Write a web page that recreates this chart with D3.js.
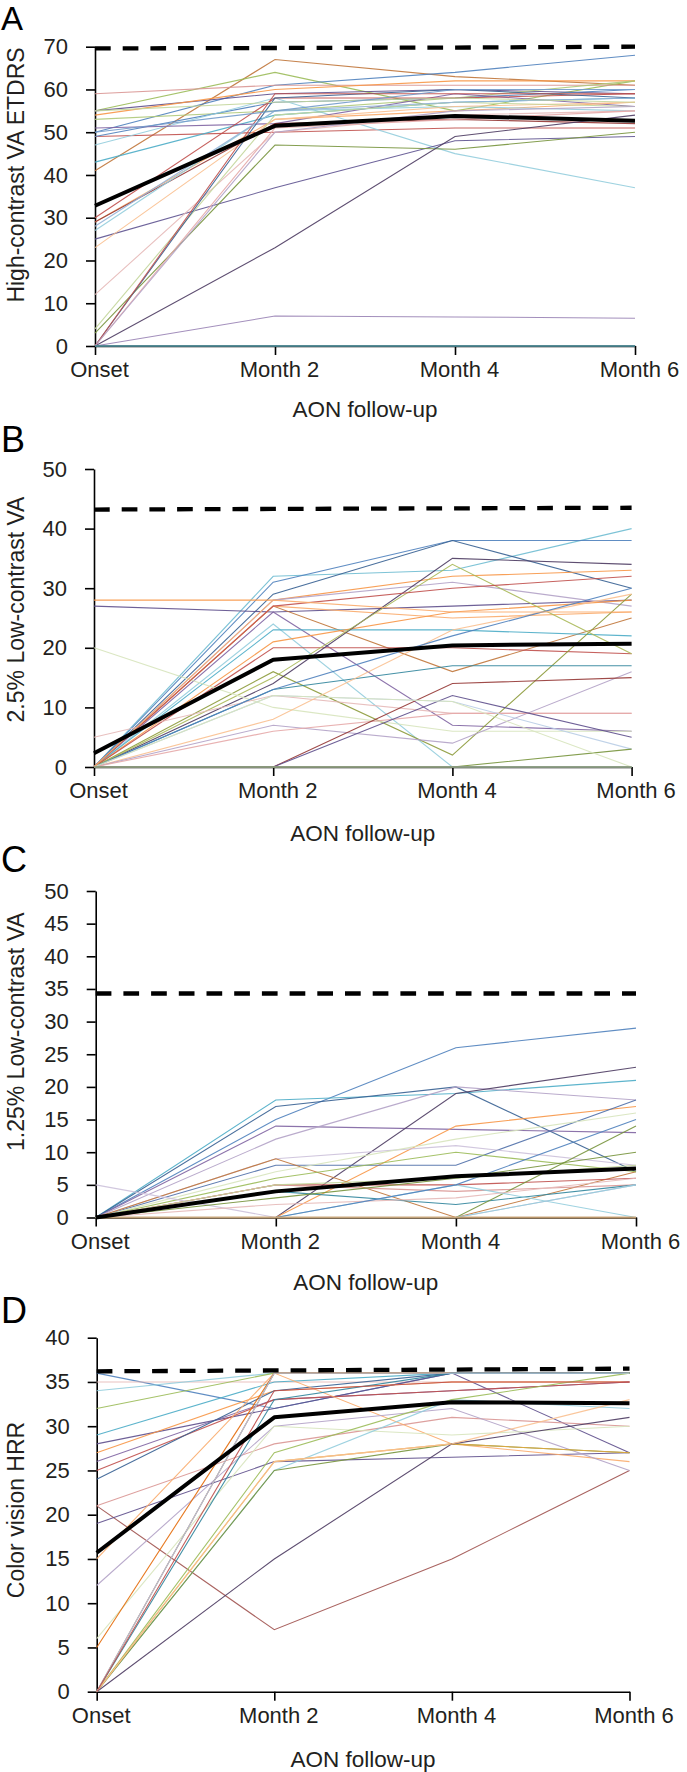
<!DOCTYPE html>
<html><head><meta charset="utf-8">
<script src="https://cdn.jsdelivr.net/npm/d3@7"></script>
<style>
body{margin:0;background:#fff;}
svg{display:block;font-family:"Liberation Sans",Arial,Helvetica,sans-serif;}
</style></head><body>
<svg id="chart" width="687" height="1772"></svg>
<script>
// ---------------- DATA ----------------
const timepoints = ["Onset", "Month 2", "Month 4", "Month 6"];
const panelLetters = ["A", "B", "C", "D"];
const yTitles = ["High-contrast VA ETDRS", "2.5% Low-contrast VA", "1.25% Low-contrast VA", "Color vision HRR"];
const xTitle = "AON follow-up";
const yMaxes = [70, 50, 50, 40];
const ySteps = [10, 10, 5, 5];

// Panel A: high-contrast VA (ETDRS letters), one row per eye
const hcvaPatients = [
  [41, 67, 63, 61], [55, 64, 55, 62], [50, 61, 64, 68], [59, 61, 61, 61],
  [55, 59, 60, 59], [54, 60, 62, 62], [53, 55, 58, 62], [49, 50, 51, 51],
  [49, 57, 58, 60], [47, 58, 45, 37], [43, 54, 57, 58], [51, 52, 59, 56],
  [30, 58, 58, 59], [29, 53, 55, 57], [29, 52, 53, 52], [27, 55, 56, 55],
  [25, 37, 48, 49], [23, 53, 56, 57], [12, 50, 54, 55], [4, 54, 57, 56],
  [3, 47, 46, 50], [0, 58, 60, 58], [0, 23, 49, 54], [0, 7, 6.8, 6.5],
  [0, 51, 53, 55], [0, 59, 59, 59], [0, 50, 55, 56], [28, 55, 57, 58],
  [55, 57, 58, 57], [50, 55, 60, 60], [0, 0, 0, 0]
];
const hcvaMean = [32.8, 51.5, 53.8, 52.7];
const hcvaNormal = [69.6, 69.7, 69.8, 70.0];

// Panel B: 2.5% low-contrast VA
const lc25Patients = [
  [0, 32, 33, 40], [0, 31, 38, 38], [0, 29, 38, 30], [28, 28, 32, 33],
  [27, 26, 27, 28], [0, 28, 31, 27], [0, 27, 16, 25], [0, 27, 25, 26],
  [0, 26, 7, 6], [0, 24, 0, 0], [0, 23, 23, 22], [0, 21, 26, 28],
  [0, 20, 20, 19], [0, 16, 2, 29], [0, 14, 35, 34], [0, 13, 17, 17],
  [0, 15, 34, 19], [20, 10, 6, 6], [5, 12, 9, 9], [0, 8, 23, 29],
  [0, 7, 4, 16], [0, 6, 9, 9], [0, 0, 14, 15], [0, 0, 12, 5],
  [0, 12, 11, 3], [0, 0, 0, 3], [0, 27, 30, 32], [0, 13, 22, 30],
  [0, 12, 11, 0], [0, 28, 26, 26], [0, 0, 0, 0]
];
const lc25Mean = [2.3, 18, 20.4, 20.7];
const lc25Normal = [43.2, 43.3, 43.4, 43.5];

// Panel C: 1.25% low-contrast VA
const lc125Patients = [
  [0, 15, 26, 29], [0, 18, 19, 21], [0, 17, 20, 7], [0, 14, 13.5, 13],
  [0, 12, 20, 18], [0, 0, 19, 23], [0, 0, 14, 17], [0, 8, 8, 18],
  [0, 9, 11, 8], [0, 9, 0, 7], [0, 7, 12, 16], [0, 6, 10, 7],
  [0, 5, 5, 6], [0, 5, 4, 5], [0, 4, 2, 5], [0, 0, 0, 14],
  [0, 0, 5, 0], [5, 0, 0, 5], [0, 2, 3, 6], [0, 0, 5, 15],
  [0, 3, 6, 10], [0, 5, 6, 8], [0, 0, 0, 5], [0, 0, 0, 0]
];
const lc125Mean = [0, 4, 6.3, 7.5];
const lc125Normal = [34.3, 34.3, 34.3, 34.3];

// Panel D: colour vision HRR
const hrrPatients = [
  [36, 32, 36, 36], [35, 35, 35, 35], [34, 36, 36, 36], [32, 36, 36, 36],
  [29, 35, 36, 36], [28, 32, 36, 27], [27, 34, 35, 35], [26, 33, 34, 35],
  [25, 33, 34, 35], [24, 34, 36, 36], [21, 7, 15, 25], [21, 28, 31, 30],
  [19, 26, 26.5, 27], [15, 36, 28, 26], [12, 30, 32, 25], [6, 30, 29, 30],
  [5, 36, 36, 36], [0, 36, 36, 36], [0, 33, 36, 36], [0, 25, 33, 32],
  [0, 27, 33, 36], [0, 25, 28, 27], [0, 26, 28, 27], [0, 15, 28, 31],
  [0, 26, 28, 33], [0, 36, 36, 36], [0, 34, 35, 35]
];
const hrrMean = [15.7, 31, 32.7, 32.6];
const hrrNormal = [36.2, 36.3, 36.4, 36.5];

// ---------------- STYLE ----------------
const colorsA = ["#C0763A", "#9BBB59", "#4F81BD", "#D99694", "#5E4F8C", "#F79646",
  "#AFC97A", "#C0504D", "#4F81BD", "#93CDDD", "#4BACC6", "#8064A2",
  "#C0504D", "#F9AB6B", "#953735", "#93CDDD", "#5E5390", "#FAC090",
  "#E6B9B8", "#C3D69B", "#77933C", "#376092", "#4D3B62", "#9983B5",
  "#E6A9A8", "#C0504D", "#B3A2C7", "#95B3D7", "#C3D69B", "#729ACA", "#4A8590"];
const colorsB = ["#6FBDD1", "#4F81BD", "#376092", "#F79646", "#5E4F8C", "#B3A2C7",
  "#C0763A", "#F9AB6B", "#8064A2", "#93CDDD", "#4BACC6", "#F79646",
  "#C0504D", "#8C9A3A", "#4D3B62", "#31859C", "#A9B856", "#D7E4BD",
  "#E6B9B8", "#FAC090", "#B3A2C7", "#E6A9A8", "#953735", "#5E4F8C",
  "#B9CDE5", "#77933C", "#C0504D", "#4F81BD", "#D7E4BD", "#F9AB6B", "#8C9A80"];
const colorsC = ["#4F81BD", "#4BACC6", "#376092", "#8064A2", "#B3A2C7", "#4D3B62",
  "#F79646", "#4F6FA8", "#CCC1DA", "#C0763A", "#D7E4BD", "#9BBB59",
  "#C0504D", "#D99694", "#31859C", "#77933C", "#93CDDD", "#CCC1DA",
  "#E6B9B8", "#4F81BD", "#77933C", "#C3D69B", "#93CDDD", "#C8A070"];
const colorsD = ["#4F81BD", "#E6B9B8", "#93CDDD", "#9BBB59", "#4BACC6", "#5E4F8C",
  "#F79646", "#8064A2", "#C0504D", "#376092", "#A0524F", "#D99694",
  "#5E4F8C", "#F9AB6B", "#B3A2C7", "#D7E4BD", "#E46C0A", "#A0522D",
  "#31859C", "#93CDDD", "#9BBB59", "#77933C", "#E3A840", "#4D3B62",
  "#FAC090", "#B9CDE5", "#C0504D"];

const layouts = [
  {x0: 95, x1: 635, yTop: 46.7, yZero: 346, titleY: 175, letterY: 29.8, xTitleY: 417},
  {x0: 94, x1: 631.6, yTop: 469, yZero: 767, titleY: 609.5, letterY: 452, xTitleY: 841},
  {x0: 95.7, x1: 636, yTop: 891, yZero: 1217.5, titleY: 1031.7, letterY: 872, xTitleY: 1290},
  {x0: 96.7, x1: 629.5, yTop: 1337.7, yZero: 1691.7, titleY: 1510, letterY: 1323, xTitleY: 1767}
];

const panelSeries = [hcvaPatients, lc25Patients, lc125Patients, hrrPatients];
const panelColors = [colorsA, colorsB, colorsC, colorsD];
const panelMeans = [hcvaMean, lc25Mean, lc125Mean, hrrMean];
const panelNormals = [hcvaNormal, lc25Normal, lc125Normal, hrrNormal];

const svg = d3.select("#chart");
const textColor = "#231f20";

panelLetters.forEach((letter, i) => {
  const L = layouts[i];
  const g = svg.append("g");
  const x = d3.scalePoint().domain(timepoints).range([L.x0, L.x1]);
  const y = d3.scaleLinear().domain([0, yMaxes[i]]).range([L.yZero, L.yTop]);

  // axes
  const xa = g.append("g").attr("transform", `translate(0,${L.yZero})`)
    .call(d3.axisBottom(x).tickSize(9).tickSizeOuter(0).tickPadding(6.4));
  const ya = g.append("g").attr("transform", `translate(${L.x0},0)`)
    .call(d3.axisLeft(y).tickValues(d3.range(0, yMaxes[i] + 0.001, ySteps[i]))
      .tickSize(9).tickSizeOuter(0).tickPadding(18));
  [xa, ya].forEach(a => {
    a.attr("font-family", null).attr("font-size", 22);
    a.selectAll("path.domain").attr("stroke", "#000").attr("stroke-width", 1.6);
    a.selectAll(".tick line").attr("stroke", "#000").attr("stroke-width", 1.6);
    a.selectAll(".tick text").attr("fill", textColor);
  });
  xa.selectAll(".tick text").attr("dx", 4);

  const line = d3.line().x((d, k) => x(timepoints[k])).y(d => y(d));

  // individual eyes
  const cols = panelColors[i];
  g.append("g").selectAll("path").data(panelSeries[i]).join("path")
    .attr("d", d => line(d))
    .attr("fill", "none")
    .attr("stroke", (d, k) => cols[k % cols.length])
    .attr("stroke-width", (d) => d.every(v => v === 0) ? 2 : 1.1)
    .attr("stroke-opacity", 0.9);

  // mean
  g.append("path").attr("d", line(panelMeans[i]))
    .attr("fill", "none").attr("stroke", "#000").attr("stroke-width", 4).attr("stroke-linejoin", "round");
  // normal reference (dashed)
  g.append("path").attr("d", line(panelNormals[i]))
    .attr("fill", "none").attr("stroke", "#000").attr("stroke-width", 4.3)
    .attr("stroke-dasharray", "15.7,12");

  // titles
  g.append("text").attr("transform", `translate(24,${L.titleY}) rotate(-90)`)
    .attr("text-anchor", "middle").attr("font-size", 23).attr("fill", textColor).text(yTitles[i]);
  g.append("text").attr("x", (L.x0 + L.x1) / 2).attr("y", L.xTitleY)
    .attr("text-anchor", "middle").attr("font-size", 22.5).attr("fill", textColor).text(xTitle);
  g.append("text").attr("x", 1).attr("y", L.letterY)
    .attr("font-size", i === 0 ? 33 : 36).attr("fill", "#000").text(letter);
});
</script>
</body></html>
